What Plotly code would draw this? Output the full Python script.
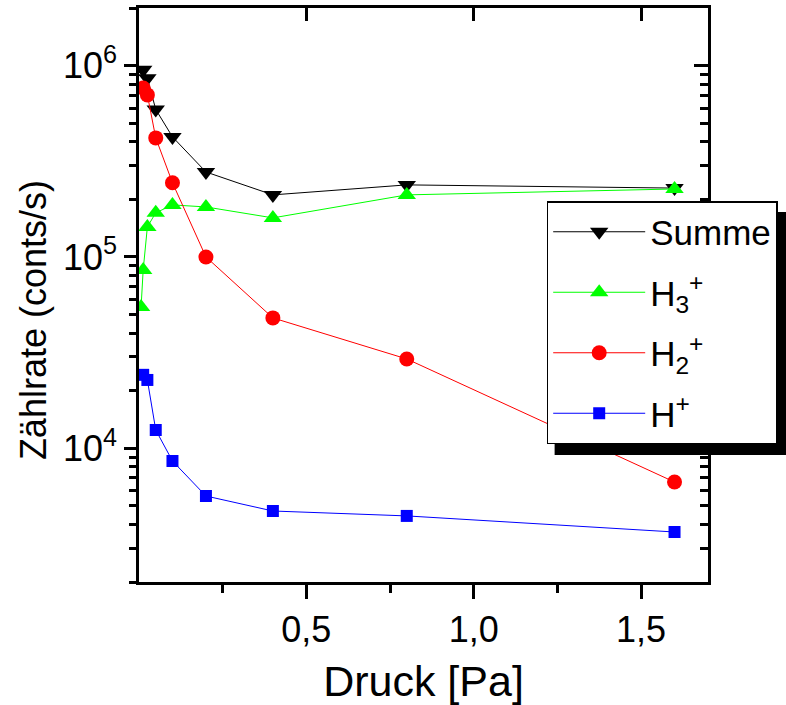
import plotly.graph_objects as go

# Pressure steps [Pa]
druck = [0.0125, 0.025, 0.05, 0.1, 0.2, 0.4, 0.8, 1.6]
druck_h3 = [0.00625, 0.0125, 0.025, 0.05, 0.1, 0.2, 0.4, 0.8, 1.6]

# Count rates [counts/s]
summe = [950000, 860000, 590000, 424000, 278000, 211000, 238000, 229000]
h3 = [54800, 85500, 143500, 170000, 187000, 182500, 160000, 211000, 226500]
h2 = [764000, 703000, 419000, 244000, 100000, 48000, 29300, 6660]
h1 = [24200, 22750, 12460, 8580, 5630, 4700, 4430, 3650]

x_ticks = [0.5, 1.0, 1.5]
x_ticklabels = ["0,5", "1,0", "1,5"]
x_minor = [0.25, 0.75, 1.25]
y_ticks = [1e4, 1e5, 1e6]
y_ticklabels = ["10<sup>4</sup>", "10<sup>5</sup>", "10<sup>6</sup>"]
y_minor = [m * 10 ** e for e in (3, 4, 5, 6) for m in range(2, 10) if 2e3 <= m * 10 ** e <= 2e6]

X_RANGE = [0, 1.7]
Y_RANGE = [3.30103, 6.30103]

FONT = "Liberation Sans, Arial, sans-serif"

fig = go.Figure()

series = [
    ("Summe", druck, summe, "black", "triangle-down", 16),
    ("H<sub>3</sub><sup>+</sup>", druck_h3, h3, "#00ff00", "triangle-up", 16),
    ("H<sub>2</sub><sup>+</sup>", druck, h2, "#ff0000", "circle", 15),
    ("H<sup>+</sup>", druck, h1, "#0000ff", "square", 12),
]
for i, (name, xs, ys, color, symbol, size) in enumerate(series):
    fig.add_trace(go.Scatter(x=xs, y=ys, name=name, mode="lines+markers",
                             legendgroup=f"g{i}",
                             line=dict(color=color, width=1),
                             marker=dict(symbol=symbol, size=size, color=color)))

# empty trace that puts the mirrored top/right frame axes on the page
fig.add_trace(go.Scatter(x=[None], y=[None], xaxis="x2", yaxis="y2",
                         showlegend=False, hoverinfo="skip"))

L, R, T, B = 139, 72, 8, 123
W, H = 786, 705
pw, ph = W - L - R, H - T - B


def px(xp):
    return (xp - L) / pw


def py(yp):
    return (H - B - yp) / ph


axis_common = dict(showline=True, linecolor="black", linewidth=2.5, showgrid=False,
                   zeroline=False, tickcolor="black", tickwidth=2.5)

fig.update_layout(
    width=W, height=H,
    margin=dict(l=L, r=R, t=T, b=B),
    paper_bgcolor="white", plot_bgcolor="white",
    font=dict(family=FONT, size=36, color="black"),
    showlegend=True,
    legend=dict(x=px(551), y=py(201), xanchor="left", yanchor="top",
                bgcolor="white", bordercolor="black", borderwidth=1.5,
                font=dict(size=35), itemwidth=92, tracegroupgap=12),
    xaxis=dict(range=X_RANGE, ticks="outside", ticklen=14,
               tickmode="array", tickvals=x_ticks, ticktext=x_ticklabels,
               minor=dict(tickmode="array", tickvals=x_minor, ticks="outside",
                          ticklen=8, tickwidth=2.5, tickcolor="black"),
               title=dict(text="Druck [Pa]", standoff=18), **axis_common),
    xaxis2=dict(range=X_RANGE, overlaying="x", side="top", ticks="inside", ticklen=13,
                tickmode="array", tickvals=x_ticks, showticklabels=False, **axis_common),
    yaxis=dict(type="log", range=Y_RANGE, ticks="outside", ticklen=12,
               tickmode="array", tickvals=y_ticks, ticktext=y_ticklabels,
               minor=dict(tickmode="array", tickvals=y_minor, ticks="outside",
                          ticklen=7, tickwidth=2.5, tickcolor="black"),
               **axis_common),
    yaxis2=dict(type="log", range=Y_RANGE, overlaying="y", side="right", ticks="inside",
                ticklen=14, tickmode="array", tickvals=y_ticks, showticklabels=False,
                minor=dict(tickmode="array", tickvals=y_minor, ticks="inside",
                           ticklen=8, tickwidth=2.5, tickcolor="black"),
                **axis_common),
    annotations=[dict(text="Zählrate (conts/s)", xref="paper", yref="paper",
                      x=px(32), y=py(320), xanchor="center", yanchor="middle",
                      textangle=-90, showarrow=False, font=dict(size=36))],
    shapes=[dict(type="rect", xref="paper", yref="paper",
                 x0=px(559), x1=px(795), y0=py(455), y1=py(212),
                 fillcolor="black", line=dict(width=0), layer="above")],
)

fig.write_html("out.html")
